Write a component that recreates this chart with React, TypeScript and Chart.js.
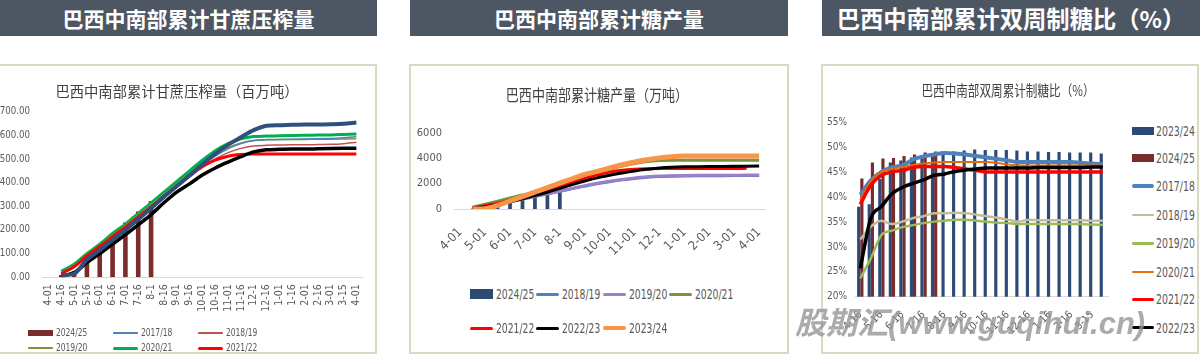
import React, { useEffect, useRef } from "react";
import { Chart, registerables } from "chart.js";
Chart.register(...registerables);

const NARROW = "'DejaVu Sans Condensed', 'Liberation Sans', sans-serif";
const CJK = "'Noto Sans CJK SC', 'Noto Sans', sans-serif";
const GRAY = "#595959";
const AXIS = "#d9d9d9";

// ---------- categories ----------
const halfMonths = ["4-01", "4-16", "5-01", "5-16", "6-01", "6-16", "7-01", "7-16", "8-1", "8-16", "9-01", "9-16", "10-01", "10-16", "11-01", "11-16", "12-1", "12-16", "1-01", "1-16", "2-01", "2-16", "3-01", "3-15", "4-01"];
const mixCats = ["4-16", "5-01", "5-16", "6-01", "6-16", "7-01", "7-16", "8-1", "8-16", "9-01", "9-16", "10-01", "10-16", "11-01", "11-16", "12-1", "12-16", "1-01", "1-16", "2-01", "2-16", "3-01", "3-15", "4-01"];

// ---------- panel 1: cumulative cane crush (Mt) ----------
const crush2425 = [null, 10, 25, 80, 118, 160, 232, 278, 322, null, null, null, null, null, null, null, null, null, null, null, null, null, null, null, null];
const crush1718 = [null, 15, 45, 90, 130, 172, 212, 257, 300, 345, 390, 433, 475, 512, 543, 565, 578, 582, 583, 584, 585, 586, 587, 590, 594];
const crush1819 = [null, 15, 45, 88, 128, 170, 210, 255, 298, 343, 385, 425, 465, 500, 527, 545, 555, 558, 559, 560, 560, 561, 562, 565, 571];
const crush1920 = [null, 20, 50, 95, 135, 178, 220, 264, 308, 352, 396, 440, 483, 520, 548, 568, 578, 581, 582, 583, 583, 584, 584, 585, 586];
const crush2021 = [null, 25, 55, 100, 140, 185, 225, 270, 315, 360, 405, 450, 495, 535, 565, 585, 595, 597, 598, 599, 600, 601, 602, 604, 606];
const crush2122 = [null, 15, 45, 90, 130, 172, 212, 255, 298, 340, 385, 430, 468, 495, 512, 519, 521, 521, 521, 521, 521, 521, 521, 521, 521];
const crush2223 = [null, 5, 20, 62, 100, 140, 180, 222, 265, 315, 360, 395, 432, 462, 487, 510, 530, 539, 541, 542, 542, 543, 544, 545, 546];
const crush2324 = [null, 8, 15, 75, 115, 158, 200, 245, 292, 340, 385, 430, 478, 522, 560, 592, 622, 641, 643, 645, 646, 646, 647, 649, 654];

// ---------- panel 2: cumulative sugar output (10kt) ----------
const sugar2425 = [null, 40, 110, 310, 570, 830, 1220, 1480, 2000, null, null, null, null, null, null, null, null, null, null, null, null, null, null, null, null];
const sugar1819 = [null, 70, 190, 370, 570, 780, 990, 1190, 1390, 1600, 1800, 1990, 2150, 2290, 2400, 2490, 2550, 2580, 2600, 2610, 2615, 2620, 2625, 2630, 2640];
const sugar1920 = [null, 80, 200, 380, 580, 790, 1000, 1200, 1400, 1620, 1830, 2020, 2180, 2320, 2440, 2530, 2590, 2620, 2640, 2650, 2650, 2655, 2660, 2665, 2680];
const sugar2021 = [null, 140, 380, 620, 860, 1100, 1350, 1620, 1900, 2300, 2620, 2880, 3130, 3370, 3580, 3740, 3820, 3840, 3835, 3830, 3830, 3830, 3830, 3830, 3830];
const sugar2122 = [null, 100, 250, 450, 700, 950, 1200, 1480, 1780, 2080, 2400, 2680, 2900, 3050, 3130, 3170, 3180, 3180, 3180, 3180, 3180, 3180, 3180, 3200, null];
const sugar2223 = [null, 50, 150, 330, 560, 800, 1050, 1320, 1620, 1920, 2200, 2450, 2650, 2830, 2990, 3120, 3230, 3290, 3320, 3330, 3340, 3350, 3360, 3370, 3380];
const sugar2324 = [null, 0, 30, 280, 630, 980, 1330, 1680, 2030, 2380, 2720, 2960, 3230, 3480, 3700, 3880, 4020, 4110, 4160, 4170, 4170, 4170, 4170, 4170, 4170];

// ---------- panel 3: cumulative sugar mix (%) ----------
const mix2324 = [38.1, 38.6, 43.7, 47.0, 47.4, 48.0, 48.5, 48.8, 49.2, 49.2, 49.4, 49.6, 49.5, 49.5, 49.5, 49.4, 49.2, 49.2, 49.1, 49.1, 49.0, 49.0, 49.0, 48.8];
const mix2425 = [43.8, 47.0, 47.8, 47.9, 48.3, 48.6, 49.0, 49.2, null, null, null, null, null, null, null, null, null, null, null, null, null, null, null, null];
const mix1718 = [40.5, 43.4, 45.1, 46.0, 46.4, 47.6, 48.2, 48.6, 48.9, 48.8, 48.6, 48.3, 48.0, 47.7, 47.4, 47.1, 47.1, 47.1, 47.1, 47.1, 47.1, 46.9, 46.8, 46.6];
const mix1819 = [31.5, 34.1, 35.3, 34.6, 35.1, 35.8, 36.2, 36.8, 36.8, 36.9, 36.8, 36.5, 36.2, 35.9, 35.5, 35.1, 35.5, 35.4, 35.4, 35.4, 35.4, 35.4, 35.3, 35.3];
const mix1920 = [23.7, 27.7, 32.4, 33.3, 34.0, 34.4, 34.8, 35.1, 35.3, 35.5, 35.5, 35.3, 35.1, 34.9, 34.8, 34.6, 34.6, 34.6, 34.6, 34.6, 34.6, 34.6, 34.5, 34.4];
const mix2021 = [39.5, 43.2, 45.1, 45.7, 46.1, 46.5, 46.8, 47.0, 47.1, 47.1, 47.1, 47.1, 47.1, 46.9, 46.6, 46.4, 46.4, 46.4, 46.4, 46.4, 46.4, 46.4, 46.4, 46.4];
const mix2122 = [38.6, 42.4, 44.4, 45.1, 45.4, 46.0, 46.2, 46.2, 46.2, 46.0, 45.7, 45.4, 45.1, 45.1, 45.1, 45.1, 45.1, 45.1, 45.1, 45.1, 45.1, 45.1, 45.1, 45.1];
const mix2223 = [25.7, 35.8, 38.1, 40.7, 42.0, 42.8, 43.5, 44.4, 44.7, 45.2, 45.5, 45.7, 45.9, 45.9, 45.9, 45.9, 45.9, 46.0, 46.0, 46.0, 46.0, 46.0, 46.1, 46.1];

const C = {
  maroon: "#7a2b2b",
  navy: "#2d4a76",
  blue: "#4f81bd",
  rosy: "#c0504d",
  olive: "#77933c",
  green: "#00b050",
  red: "#ff0000",
  black: "#000000",
  dblue: "#2f4f7c",
  purple: "#9b7fc8",
  orange: "#f79646",
  tan: "#c4bd97",
  lgreen: "#9bbb59",
  dorange: "#e46c0a",
};

const line = (label: string, data: any[], color: string, width: number, order: number) => ({
  type: "line" as const,
  label,
  data,
  borderColor: color,
  backgroundColor: color,
  borderWidth: width,
  pointRadius: 0,
  cubicInterpolationMode: "monotone" as const,
  order,
});

function baseOptions(pad: any) {
  return {
    animation: false,
    responsive: false,
    maintainAspectRatio: false,
    layout: { padding: pad },
    plugins: { legend: { display: false }, tooltip: { enabled: false }, title: { display: false } },
    events: [],
  };
}

const cfg1: any = {
  type: "bar",
  data: {
    labels: halfMonths,
    datasets: [
      line("2023/24", crush2324, C.dblue, 4, 0),
      line("2022/23", crush2223, C.black, 3.5, 1),
      line("2021/22", crush2122, C.red, 3, 2),
      line("2017/18", crush1718, C.blue, 1.5, 3),
      line("2018/19", crush1819, C.rosy, 1.5, 4),
      line("2019/20", crush1920, C.olive, 1.5, 5),
      line("2020/21", crush2021, C.green, 3, 6),
      { type: "bar", label: "2024/25", data: crush2425, backgroundColor: C.maroon, categoryPercentage: 1, barPercentage: 0.36, order: 20 },
    ],
  },
  options: {
    ...baseOptions({ top: 45.7, right: 2, left: 0, bottom: 0 }),
    scales: {
      x: {
        grid: { display: false, drawTicks: false },
        border: { display: true, color: AXIS, width: 1 },
        ticks: { autoSkip: false, minRotation: 90, maxRotation: 90, padding: 7, color: GRAY, font: { family: NARROW, size: 10.5 } },
        afterFit: (s: any) => { s.height = 48.7; },
      },
      y: {
        min: 0, max: 700,
        grid: { display: false, drawTicks: false },
        border: { display: false },
        ticks: { stepSize: 100, padding: 12, color: GRAY, font: { family: NARROW, size: 9.6 }, callback: (v: any) => Number(v).toFixed(2) },
        afterFit: (s: any) => { s.width = 42; },
      },
    },
  },
};

const cfg2: any = {
  type: "bar",
  data: {
    labels: halfMonths,
    datasets: [
      line("2023/24", sugar2324, C.orange, 5, 0),
      line("2022/23", sugar2223, C.black, 3, 1),
      line("2021/22", sugar2122, C.red, 3, 2),
      line("2020/21", sugar2021, C.olive, 3, 3),
      line("2019/20", sugar1920, C.purple, 3, 4),
      line("2018/19", sugar1819, C.blue, 3, 5),
      { type: "bar", label: "2024/25", data: sugar2425, backgroundColor: C.navy, categoryPercentage: 1, barPercentage: 0.3, order: 20 },
    ],
  },
  options: {
    ...baseOptions({ top: 66.7, right: 14.3, left: 0, bottom: 0 }),
    scales: {
      x: {
        grid: { display: false, drawTicks: false },
        border: { display: true, color: AXIS, width: 1 },
        ticks: {
          autoSkip: false, minRotation: 45, maxRotation: 45, padding: 16, color: GRAY, font: { family: NARROW, size: 12.5 },
          callback: function (this: any, v: any, i: number) { return i % 2 === 0 ? this.getLabelForValue(v) : ""; },
        },
        afterFit: (s: any) => { s.height = 57; },
      },
      y: {
        min: 0, max: 6000,
        grid: { display: false, drawTicks: false },
        border: { display: false },
        ticks: { stepSize: 2000, padding: 12, color: GRAY, font: { family: NARROW, size: 11 }, callback: (v: any) => String(v) },
        afterFit: (s: any) => { s.width = 42; },
      },
    },
  },
};

const cfg3: any = {
  type: "bar",
  data: {
    labels: mixCats,
    datasets: [
      line("2022/23", mix2223, C.black, 3.5, 0),
      line("2021/22", mix2122, C.red, 3.5, 1),
      line("2020/21", mix2021, C.dorange, 2, 2),
      line("2017/18", mix1718, C.blue, 4, 3),
      line("2018/19", mix1819, C.tan, 2.5, 4),
      line("2019/20", mix1920, C.lgreen, 2.5, 5),
      { type: "bar", label: "2023/24", data: mix2324, backgroundColor: C.navy, categoryPercentage: 0.6, barPercentage: 1, order: 20 },
      { type: "bar", label: "2024/25", data: mix2425, backgroundColor: C.maroon, categoryPercentage: 0.6, barPercentage: 1, order: 21 },
    ],
  },
  options: {
    ...baseOptions({ top: 56.7, right: 12.3, left: 0, bottom: 0 }),
    scales: {
      x: {
        grid: { display: false, drawTicks: false },
        border: { display: true, color: AXIS, width: 1 },
        ticks: {
          autoSkip: false, minRotation: 45, maxRotation: 45, padding: 12, color: GRAY, font: { family: NARROW, size: 10.5 },
          callback: function (this: any, v: any, i: number) { return i % 2 === 0 ? this.getLabelForValue(v) : ""; },
        },
        afterFit: (s: any) => { s.height = 49.3; },
      },
      y: {
        min: 20, max: 55,
        grid: { display: false, drawTicks: false },
        border: { display: false },
        ticks: { stepSize: 5, padding: 8, color: GRAY, font: { family: NARROW, size: 10 }, callback: (v: any) => v + "%" },
        afterFit: (s: any) => { s.width = 31; },
      },
    },
  },
};

function ChartBox({ left, top, width, height, config }: any) {
  const ref = useRef<HTMLCanvasElement>(null);
  useEffect(() => {
    const chart = new Chart(ref.current as HTMLCanvasElement, config);
    return () => chart.destroy();
  }, []);
  return <canvas ref={ref} width={width} height={height} style={{ position: "absolute", left, top, width, height }} />;
}

type LItem = { label: string; color: string; kind: "box" | "line"; thick: number; x: number; y: number };

function Legend({ items, sw, gap, font, boxH, sx }: { items: LItem[]; sw: number; gap: number; font: number; boxH: number; sx: number }) {
  return (
    <>
      {items.map((it) => (
        <div key={it.label} style={{ position: "absolute", left: it.x, top: it.y - 10, height: 20, display: "flex", alignItems: "center", whiteSpace: "nowrap" }}>
          <div style={{ width: sw, height: it.kind === "box" ? boxH : it.thick, background: it.color, borderRadius: it.kind === "line" ? it.thick / 2 : 0, flex: "none" }} />
          <span style={{ marginLeft: gap, fontFamily: NARROW, fontSize: font, color: GRAY, lineHeight: "20px", display: "inline-block", transform: `scaleX(${sx})`, transformOrigin: "left center" }}>{it.label}</span>
        </div>
      ))}
    </>
  );
}

const legend1: LItem[] = [
  { label: "2024/25", color: C.maroon, kind: "box", thick: 6, x: 28, y: 333 },
  { label: "2017/18", color: C.blue, kind: "line", thick: 1.5, x: 113, y: 333 },
  { label: "2018/19", color: C.rosy, kind: "line", thick: 1.5, x: 198, y: 333 },
  { label: "2019/20", color: C.olive, kind: "line", thick: 1.5, x: 28, y: 348 },
  { label: "2020/21", color: C.green, kind: "line", thick: 3, x: 113, y: 348 },
  { label: "2021/22", color: C.red, kind: "line", thick: 3, x: 198, y: 348 },
];
const legend2: LItem[] = [
  { label: "2024/25", color: C.navy, kind: "box", thick: 10, x: 470, y: 294 },
  { label: "2018/19", color: C.blue, kind: "line", thick: 3, x: 536, y: 294 },
  { label: "2019/20", color: C.purple, kind: "line", thick: 3, x: 603, y: 294 },
  { label: "2020/21", color: C.olive, kind: "line", thick: 3, x: 669, y: 294 },
  { label: "2021/22", color: C.red, kind: "line", thick: 3, x: 470, y: 328 },
  { label: "2022/23", color: C.black, kind: "line", thick: 3, x: 536, y: 328 },
  { label: "2023/24", color: C.orange, kind: "line", thick: 4, x: 603, y: 328 },
];
const legend3: LItem[] = [
  { label: "2023/24", color: C.navy, kind: "box", thick: 8, x: 1132, y: 130.7 },
  { label: "2024/25", color: C.maroon, kind: "box", thick: 8, x: 1132, y: 158.3 },
  { label: "2017/18", color: C.blue, kind: "line", thick: 4, x: 1132, y: 186 },
  { label: "2018/19", color: C.tan, kind: "line", thick: 2.5, x: 1132, y: 215 },
  { label: "2019/20", color: C.lgreen, kind: "line", thick: 2.5, x: 1132, y: 243.3 },
  { label: "2020/21", color: C.dorange, kind: "line", thick: 2, x: 1132, y: 271.7 },
  { label: "2021/22", color: C.red, kind: "line", thick: 3.5, x: 1132, y: 299.3 },
  { label: "2022/23", color: C.black, kind: "line", thick: 3.5, x: 1132, y: 327.7 },
];

const HEADER_BG = "#4d5663";
const FRAME = "#ddd8c3";

function Header({ left, width, text, size }: { left: number; width: number; text: string; size: number }) {
  return (
    <div style={{ position: "absolute", left, top: 0, width, height: 36, background: HEADER_BG, color: "#fff", fontFamily: CJK, fontWeight: 700, fontSize: size, display: "flex", alignItems: "center", justifyContent: "center", whiteSpace: "nowrap" }}>
      {text}
    </div>
  );
}

function Frame({ left, width }: { left: number; width: number }) {
  return <div style={{ position: "absolute", left, top: 64, width, height: 290, boxSizing: "border-box", border: `2px solid ${FRAME}`, background: "#fff" }} />;
}

function Title({ cx, cy, text, size, sx }: { cx: number; cy: number; text: string; size: number; sx: number }) {
  return (
    <div style={{ position: "absolute", left: cx - 200, top: cy - 15, width: 400, height: 30, display: "flex", alignItems: "center", justifyContent: "center", fontFamily: CJK, fontSize: size, color: "#404040", whiteSpace: "nowrap", transform: `scaleX(${sx})` }}>
      {text}
    </div>
  );
}

export default function App() {
  return (
    <div style={{ position: "absolute", left: 0, top: 0, width: 1200, height: 355, background: "#fff", overflow: "hidden" }}>
      <Header left={0} width={377} text="巴西中南部累计甘蔗压榨量" size={21} />
      <Header left={410} width={378} text="巴西中南部累计糖产量" size={21} />
      <Header left={822} width={378} text="巴西中南部累计双周制糖比（%）" size={23.3} />

      <Frame left={-3} width={380} />
      <Frame left={409} width={380} />
      <Frame left={821} width={378} />

      <ChartBox left={0} top={66} width={376} height={260} config={cfg1} />
      <ChartBox left={412} top={66} width={374} height={200} config={cfg2} />
      <ChartBox left={824} top={66} width={300} height={280} config={cfg3} />

      <Title cx={177} cy={90} text="巴西中南部累计甘蔗压榨量（百万吨）" size={14.3} sx={1} />
      <Title cx={596.5} cy={94} text="巴西中南部累计糖产量（万吨）" size={15.5} sx={0.84} />
      <Title cx={1008} cy={89} text="巴西中南部双周累计制糖比（%）" size={14.5} sx={0.8} />

      <Legend items={legend1} sw={25} gap={3} font={11} boxH={6} sx={0.76} />
      <Legend items={legend2} sw={23} gap={3} font={13.5} boxH={10} sx={0.76} />
      <Legend items={legend3} sw={22} gap={2} font={13.5} boxH={8} sx={0.77} />

      <div style={{ position: "absolute", left: 795, top: 304, fontFamily: "'Liberation Sans', 'Noto Sans CJK SC', sans-serif", fontWeight: 700, fontStyle: "italic", fontSize: 31, color: "rgba(150,150,150,0.8)", whiteSpace: "nowrap", lineHeight: "40px" }}>
        股期汇(www.guqihui.cn)
      </div>
    </div>
  );
}
